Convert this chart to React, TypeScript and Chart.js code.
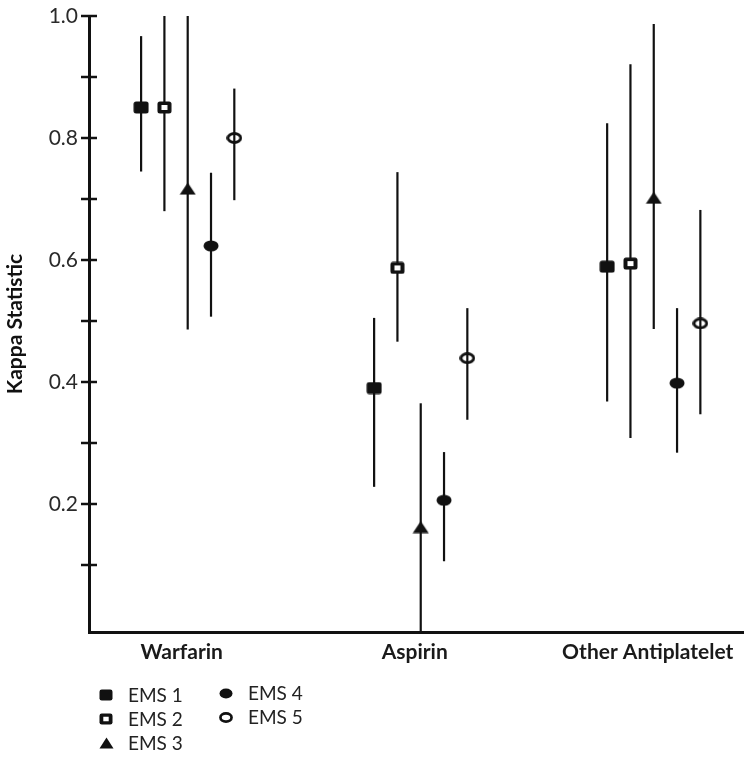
import React, { useEffect, useRef } from "react";
import { Chart, registerables } from "chart.js";

Chart.register(...registerables);

const categories = ["Warfarin", "Aspirin", "Other Antiplatelet"];
const seriesNames = ["EMS 1", "EMS 2", "EMS 3", "EMS 4", "EMS 5"];

const ems1 = [0.85, 0.39, 0.589];
const ems1Lo = [0.745, 0.228, 0.368];
const ems1Hi = [0.967, 0.505, 0.824];

const ems2 = [0.85, 0.587, 0.594];
const ems2Lo = [0.68, 0.466, 0.308];
const ems2Hi = [1.0, 0.744, 0.921];

const ems3 = [0.717, 0.162, 0.702];
const ems3Lo = [0.486, -0.05, 0.487];
const ems3Hi = [1.0, 0.365, 0.987];

const ems4 = [0.623, 0.206, 0.398];
const ems4Lo = [0.507, 0.106, 0.284];
const ems4Hi = [0.743, 0.285, 0.521];

const ems5 = [0.8, 0.439, 0.496];
const ems5Lo = [0.698, 0.338, 0.347];
const ems5Hi = [0.881, 0.521, 0.682];

const yTickValues = [0.1, 0.2, 0.3, 0.4, 0.5, 0.6, 0.7, 0.8, 0.9, 1.0];
const yTickLabels = ["", "0.2", "", "0.4", "", "0.6", "", "0.8", "", "1.0"];

const values = [ems1, ems2, ems3, ems4, ems5];
const lows = [ems1Lo, ems2Lo, ems3Lo, ems4Lo, ems5Lo];
const highs = [ems1Hi, ems2Hi, ems3Hi, ems4Hi, ems5Hi];

const SERIES_SPREAD = 0.1;
const INK = "#111111";
const FONT = "Lato, 'Liberation Sans', sans-serif";

function makeCanvas(w: number, h: number) {
  const c = document.createElement("canvas");
  c.width = w;
  c.height = h;
  return c;
}

function roundRect(ctx: CanvasRenderingContext2D, x: number, y: number, w: number, h: number, r: number) {
  ctx.beginPath();
  ctx.moveTo(x + r, y);
  ctx.lineTo(x + w - r, y);
  ctx.quadraticCurveTo(x + w, y, x + w, y + r);
  ctx.lineTo(x + w, y + h - r);
  ctx.quadraticCurveTo(x + w, y + h, x + w - r, y + h);
  ctx.lineTo(x + r, y + h);
  ctx.quadraticCurveTo(x, y + h, x, y + h - r);
  ctx.lineTo(x, y + r);
  ctx.quadraticCurveTo(x, y, x + r, y);
  ctx.closePath();
}

function makeMarkers(scale: number) {
  const s = scale;
  const m1 = makeCanvas(Math.round(16 * s), Math.round(13 * s));
  {
    const c = m1.getContext("2d")!;
    c.fillStyle = INK;
    roundRect(c, 0.5, 0.5, m1.width - 1, m1.height - 1, 2.5 * s);
    c.fill();
  }
  const m2 = makeCanvas(Math.round(15 * s), Math.round(13 * s));
  {
    const c = m2.getContext("2d")!;
    c.fillStyle = INK;
    roundRect(c, 0.5, 0.5, m2.width - 1, m2.height - 1, 2.5 * s);
    c.fill();
    c.fillStyle = "#ffffff";
    const iw = 6 * s, ih = 5 * s;
    c.fillRect((m2.width - iw) / 2, (m2.height - ih) / 2, iw, ih);
  }
  const m3 = makeCanvas(Math.round(17 * s), Math.round(13 * s));
  {
    const c = m3.getContext("2d")!;
    c.fillStyle = INK;
    c.beginPath();
    c.moveTo(m3.width / 2, 0.5);
    c.lineTo(m3.width - 0.5, m3.height - 0.5);
    c.lineTo(0.5, m3.height - 0.5);
    c.closePath();
    c.fill();
  }
  const m4 = makeCanvas(Math.round(16 * s), Math.round(12 * s));
  {
    const c = m4.getContext("2d")!;
    c.fillStyle = INK;
    c.beginPath();
    c.ellipse(m4.width / 2, m4.height / 2, m4.width / 2 - 0.5, m4.height / 2 - 0.5, 0, 0, Math.PI * 2);
    c.fill();
  }
  const m5 = makeCanvas(Math.round(16 * s), Math.round(12 * s));
  {
    const c = m5.getContext("2d")!;
    c.strokeStyle = INK;
    c.lineWidth = 3 * s;
    c.beginPath();
    c.ellipse(m5.width / 2, m5.height / 2, m5.width / 2 - 1.6 * s, m5.height / 2 - 1.6 * s, 0, 0, Math.PI * 2);
    c.stroke();
  }
  return [m1, m2, m3, m4, m5];
}

export default function App() {
  const ref = useRef<HTMLCanvasElement | null>(null);

  useEffect(() => {
    document.body.style.margin = "0";
    const canvas = ref.current;
    if (!canvas) return;

    const markers = makeMarkers(1);
    const legendMarkers = makeMarkers(0.9);

    const offset = (i: number) => (i - 2) * SERIES_SPREAD;

    const datasets = seriesNames.map((name, si) => ({
      label: name,
      data: values[si].map((v, ci) => ({ x: ci + offset(si), y: v })),
      pointStyle: markers[si] as any,
      pointRadius: 8,
      showLine: false,
      clip: false as any,
    }));

    const errorBars = {
      id: "errorBars",
      beforeDatasetsDraw(chart: any) {
        const { ctx, chartArea, scales } = chart;
        const xs = scales.x, ys = scales.y;
        ctx.save();
        ctx.beginPath();
        ctx.rect(chartArea.left, chartArea.top - 1, chartArea.right - chartArea.left, chartArea.bottom - chartArea.top + 1);
        ctx.clip();
        ctx.strokeStyle = INK;
        ctx.lineWidth = 2.2;
        seriesNames.forEach((_, si) => {
          categories.forEach((__, ci) => {
            const px = xs.getPixelForValue(ci + offset(si));
            const y1 = ys.getPixelForValue(lows[si][ci]);
            const y2 = ys.getPixelForValue(highs[si][ci]);
            ctx.beginPath();
            ctx.moveTo(px, y1);
            ctx.lineTo(px, y2);
            ctx.stroke();
          });
        });
        ctx.restore();
      },
    };

    const axisTicks = {
      id: "axisTicks",
      afterDraw(chart: any) {
        const { ctx, chartArea, scales } = chart;
        ctx.save();
        ctx.strokeStyle = INK;
        ctx.lineWidth = 2.5;
        yTickValues.forEach((v) => {
          const py = Math.round(scales.y.getPixelForValue(v));
          ctx.beginPath();
          ctx.moveTo(chartArea.left - 8, py);
          ctx.lineTo(chartArea.left + 8, py);
          ctx.stroke();
        });
        const colX = [chartArea.left + 17, chartArea.left + 137];
        const rowY = [chartArea.bottom + 63, chartArea.bottom + 87, chartArea.bottom + 111];
        ctx.font = "19px " + FONT;
        ctx.fillStyle = "#222222";
        ctx.textBaseline = "middle";
        ctx.textAlign = "left";
        seriesNames.forEach((name, si) => {
          const col = si < 3 ? 0 : 1;
          const row = si < 3 ? si : si - 3;
          const cx = colX[col];
          const cy = rowY[row] - (col === 1 ? 2 : 0);
          const m = legendMarkers[si];
          ctx.drawImage(m, Math.round(cx - m.width / 2), Math.round(cy - m.height / 2));
          ctx.fillText(name, cx + 22, cy + 1);
        });
        ctx.restore();
      },
    };

    const chart = new Chart(canvas, {
      type: "scatter",
      data: { datasets: datasets as any },
      options: {
        animation: false,
        responsive: false,
        maintainAspectRatio: false,
        layout: { padding: { top: 16, right: 11, left: 0, bottom: 0 } },
        plugins: {
          legend: { display: false },
          tooltip: { enabled: false },
        },
        scales: {
          x: {
            type: "linear",
            min: -0.4236,
            max: 2.383,
            afterFit: (s: any) => {
              s.height = 126;
              s.paddingLeft = 0;
              s.paddingRight = 0;
            },
            afterBuildTicks: (s: any) => {
              s.ticks = categories.map((_, i) => ({ value: i }));
            },
            grid: { display: false, drawTicks: false },
            border: { display: true, color: INK, width: 3 },
            ticks: {
              autoSkip: false,
              maxRotation: 0,
              padding: 8,
              labelOffset: -6,
              color: "#1a1a1a",
              font: { family: FONT, size: 21, weight: "bold" },
              callback: (v: any) => categories[Math.round(Number(v))] ?? "",
            },
          },
          y: {
            type: "linear",
            min: -0.01,
            max: 1.0,
            afterFit: (s: any) => {
              s.width = 89;
              s.paddingTop = 0;
              s.paddingBottom = 0;
            },
            afterBuildTicks: (s: any) => {
              s.ticks = yTickValues.map((v) => ({ value: v }));
            },
            grid: { display: false, drawTicks: false },
            border: { display: true, color: INK, width: 3 },
            title: {
              display: true,
              text: "Kappa Statistic",
              color: "#111111",
              font: { family: FONT, size: 21, weight: "bold" },
              padding: { top: 3, bottom: 0 },
            },
            ticks: {
              autoSkip: false,
              padding: 11,
              color: "#2a2a2a",
              font: { family: FONT, size: 21 },
              callback: (v: any) => {
                const idx = yTickValues.findIndex((t) => Math.abs(t - Number(v)) < 1e-6);
                return idx >= 0 ? yTickLabels[idx] : "";
              },
            },
          },
        },
      },
      plugins: [errorBars, axisTicks],
    });

    return () => chart.destroy();
  }, []);

  return (
    <div style={{ width: 754, height: 758, position: "relative" }}>
      <canvas ref={ref} width={754} height={758} style={{ width: 754, height: 758, display: "block" }} />
    </div>
  );
}
